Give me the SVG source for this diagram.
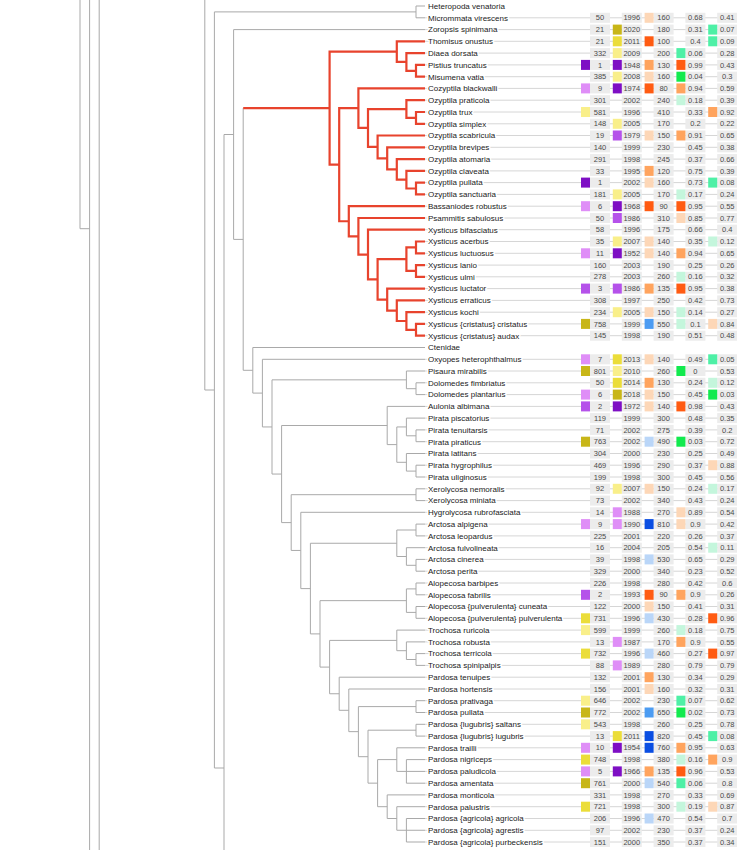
<svg xmlns="http://www.w3.org/2000/svg" xmlns:xlink="http://www.w3.org/1999/xlink" width="737" height="850" viewBox="0 0 737 850">
<style>
.g{fill:none;stroke:#a9a9a9;stroke-width:1}
.r{fill:none;stroke:#e8432d;stroke-width:2.2;stroke-linejoin:miter}
.gd{stroke:#d6d6d6;stroke-width:1}
.bx{fill:#ececec}
.lb{font-family:"Liberation Sans",Arial,sans-serif;font-size:8px;fill:#222;stroke:#fff;stroke-width:3;paint-order:stroke;stroke-linejoin:round}
.n{font-family:"Liberation Sans",Arial,sans-serif;font-size:7.5px;fill:#4a4a4a;text-anchor:middle}
.dp{fill:#7e0fc4}.mp{fill:#b552ea}.lv{fill:#df8ef7}.ol{fill:#c8b618}.ye{fill:#ebdd3a}.py{fill:#f9ef8a}
.or{fill:#ff5b12}.oa{fill:#ffa45e}.pp{fill:#fdd7b7}.mi{fill:#4ef0a6}.gr{fill:#12ea4e}.pm{fill:#c4f6dc}
.bl{fill:#4c9cf2}.db{fill:#0a4ee2}.pb{fill:#bad6f8}
</style>
<defs>
<g id="row">
<line class="gd" x1="425" y1="0" x2="737" y2="0"/>
<rect class="bx" x="590" y="-5" width="20" height="10"/>
<rect class="bx" x="621.8" y="-5" width="20" height="10"/>
<rect class="bx" x="653.6" y="-5" width="20" height="10"/>
<rect class="bx" x="685.4" y="-5" width="20" height="10"/>
<rect class="bx" x="717.2" y="-5" width="20" height="10"/>
</g>
</defs>
<g id="connectors">
<path class="g" d="M80 0V228.7H89.6M89.6 0V850M99.2 0V850M204.8 0V390H214.4M416 11.9H214.4V768H224M233.6 134.5H224V850M425 6H416V17.8H425M425 29.6H233.6V239.4H243.2M243.2 108.15V370.3H252.8M425 347.5H252.8V393.1H262.4M425 359.3H262.4V426.95H272M406.4 379.85H272V474.05H281.6M387.2 425.5H281.6V522.6H291.2M416 494.7H291.2V550.45H300.8M425 512.3H300.8V588.6H310.4M396.8 543.25H310.4V633.9H320M406.4 600.65H320V667.1H329.6M396.8 640.4H329.6V693.75H339.2M425 677.2H339.2V710.3H348.8M425 689H348.8V731.65H358.4M416 706.6H358.4V756.7H368M416 730.2H368V783.15H377.6M396.8 759.6H377.6V806.7H387.2M425 794.9H387.2V818.5H396.8M425 806.7H396.8V830.25H406.4M425 818.5H406.4V842H425M406.4 830.25H425M425 747.8H396.8V771.4H406.4M425 759.6H406.4V783.2H425M406.4 771.4H425M425 700.7H416V712.5H425M425 724.3H416V736.1H425M425 630.1H396.8V650.7H406.4M425 641.9H406.4V659.5H416M425 653.6H416V665.4H425M416 588.9H406.4V612.4H416M425 583H416V594.8H425M425 606.5H416V618.3H425M416 530H396.8V556.5H406.4M425 524.1H416V535.9H425M425 547.7H406.4V565.3H416M425 559.4H416V571.2H425M425 488.8H416V500.6H425M425 406.4H387.2V444.6H396.8M406.4 426.95H396.8V462.3H406.4M425 418.1H406.4V435.8H416M425 429.9H416V441.7H425M425 453.5H406.4V471.1H416M425 465.2H416V477H425M425 371H406.4V388.7H416M425 382.8H416V394.6H425"/>
<path class="r" d="M243.2 108.15H329.6M396.8 51.6H329.6V164.7H339.2M358.4 108.2H339.2V221.25H348.8M425 41.3H396.8V61.95H406.4M425 53.1H406.4V70.8H416M425 64.9H416V76.7H425M425 88.4H358.4V127.95H368M406.4 109.05H368V146.9H377.6M425 100.2H406.4V117.9H416M425 112H416V123.8H425M425 135.5H377.6V158.35H387.2M425 147.3H387.2V169.4H396.8M425 159.1H396.8V179.7H406.4M425 170.9H406.4V188.5H416M425 182.6H416V194.4H425M425 206.2H348.8V236.3H358.4M425 218H358.4V254.55H368M425 229.7H368V279.4H377.6M406.4 259.2H377.6V299.65H387.2M416 247.4H406.4V270.95H416M425 241.5H416V253.3H425M425 265.1H416V276.8H425M425 288.6H387.2V310.7H396.8M425 300.4H396.8V321H406.4M425 312.2H406.4V329.8H416M425 323.9H416V335.7H425"/>
</g>
<g id="heteropoda-venatoria" transform="translate(0 6)"><text class="lb" x="428" y="2.8">Heteropoda venatoria</text></g>
<g id="micrommata-virescens" transform="translate(0 17.8)"><use href="#row"/><rect class="pp" x="644.6" y="-5" width="9" height="10"/><text class="lb" x="428" y="2.8">Micrommata virescens</text><text class="n" y="2.6"><tspan x="600">50</tspan><tspan x="631.8">1996</tspan><tspan x="663.6">160</tspan><tspan x="695.4">0.68</tspan><tspan x="727.2">0.41</tspan></text></g>
<g id="zoropsis-spinimana" transform="translate(0 29.6)"><use href="#row"/><rect class="ol" x="612.8" y="-5" width="9" height="10"/><rect class="mi" x="708.2" y="-5" width="9" height="10"/><text class="lb" x="428" y="2.8">Zoropsis spinimana</text><text class="n" y="2.6"><tspan x="600">21</tspan><tspan x="631.8">2020</tspan><tspan x="663.6">180</tspan><tspan x="695.4">0.31</tspan><tspan x="727.2">0.07</tspan></text></g>
<g id="thomisus-onustus" transform="translate(0 41.3)"><use href="#row"/><rect class="ye" x="612.8" y="-5" width="9" height="10"/><rect class="or" x="644.6" y="-5" width="9" height="10"/><rect class="mi" x="708.2" y="-5" width="9" height="10"/><text class="lb" x="428" y="2.8">Thomisus onustus</text><text class="n" y="2.6"><tspan x="600">21</tspan><tspan x="631.8">2011</tspan><tspan x="663.6">100</tspan><tspan x="695.4">0.4</tspan><tspan x="727.2">0.09</tspan></text></g>
<g id="diaea-dorsata" transform="translate(0 53.1)"><use href="#row"/><rect class="py" x="612.8" y="-5" width="9" height="10"/><rect class="mi" x="676.4" y="-5" width="9" height="10"/><text class="lb" x="428" y="2.8">Diaea dorsata</text><text class="n" y="2.6"><tspan x="600">332</tspan><tspan x="631.8">2009</tspan><tspan x="663.6">200</tspan><tspan x="695.4">0.06</tspan><tspan x="727.2">0.28</tspan></text></g>
<g id="pistius-truncatus" transform="translate(0 64.9)"><use href="#row"/><rect class="dp" x="581" y="-5" width="9" height="10"/><rect class="dp" x="612.8" y="-5" width="9" height="10"/><rect class="oa" x="644.6" y="-5" width="9" height="10"/><rect class="or" x="676.4" y="-5" width="9" height="10"/><text class="lb" x="428" y="2.8">Pistius truncatus</text><text class="n" y="2.6"><tspan x="600">1</tspan><tspan x="631.8">1948</tspan><tspan x="663.6">130</tspan><tspan x="695.4">0.99</tspan><tspan x="727.2">0.43</tspan></text></g>
<g id="misumena-vatia" transform="translate(0 76.7)"><use href="#row"/><rect class="py" x="612.8" y="-5" width="9" height="10"/><rect class="pp" x="644.6" y="-5" width="9" height="10"/><rect class="gr" x="676.4" y="-5" width="9" height="10"/><text class="lb" x="428" y="2.8">Misumena vatia</text><text class="n" y="2.6"><tspan x="600">385</tspan><tspan x="631.8">2008</tspan><tspan x="663.6">160</tspan><tspan x="695.4">0.04</tspan><tspan x="727.2">0.3</tspan></text></g>
<g id="cozyptila-blackwalli" transform="translate(0 88.4)"><use href="#row"/><rect class="lv" x="581" y="-5" width="9" height="10"/><rect class="dp" x="612.8" y="-5" width="9" height="10"/><rect class="or" x="644.6" y="-5" width="9" height="10"/><rect class="oa" x="676.4" y="-5" width="9" height="10"/><text class="lb" x="428" y="2.8">Cozyptila blackwalli</text><text class="n" y="2.6"><tspan x="600">9</tspan><tspan x="631.8">1974</tspan><tspan x="663.6">80</tspan><tspan x="695.4">0.94</tspan><tspan x="727.2">0.59</tspan></text></g>
<g id="ozyptila-praticola" transform="translate(0 100.2)"><use href="#row"/><rect class="pm" x="676.4" y="-5" width="9" height="10"/><text class="lb" x="428" y="2.8">Ozyptila praticola</text><text class="n" y="2.6"><tspan x="600">301</tspan><tspan x="631.8">2002</tspan><tspan x="663.6">240</tspan><tspan x="695.4">0.18</tspan><tspan x="727.2">0.39</tspan></text></g>
<g id="ozyptila-trux" transform="translate(0 112)"><use href="#row"/><rect class="py" x="581" y="-5" width="9" height="10"/><rect class="oa" x="708.2" y="-5" width="9" height="10"/><text class="lb" x="428" y="2.8">Ozyptila trux</text><text class="n" y="2.6"><tspan x="600">581</tspan><tspan x="631.8">1996</tspan><tspan x="663.6">410</tspan><tspan x="695.4">0.33</tspan><tspan x="727.2">0.92</tspan></text></g>
<g id="ozyptila-simplex" transform="translate(0 123.8)"><use href="#row"/><rect class="py" x="612.8" y="-5" width="9" height="10"/><text class="lb" x="428" y="2.8">Ozyptila simplex</text><text class="n" y="2.6"><tspan x="600">148</tspan><tspan x="631.8">2005</tspan><tspan x="663.6">170</tspan><tspan x="695.4">0.2</tspan><tspan x="727.2">0.22</tspan></text></g>
<g id="ozyptila-scabricula" transform="translate(0 135.5)"><use href="#row"/><rect class="mp" x="612.8" y="-5" width="9" height="10"/><rect class="pp" x="644.6" y="-5" width="9" height="10"/><rect class="oa" x="676.4" y="-5" width="9" height="10"/><text class="lb" x="428" y="2.8">Ozyptila scabricula</text><text class="n" y="2.6"><tspan x="600">19</tspan><tspan x="631.8">1979</tspan><tspan x="663.6">150</tspan><tspan x="695.4">0.91</tspan><tspan x="727.2">0.65</tspan></text></g>
<g id="ozyptila-brevipes" transform="translate(0 147.3)"><use href="#row"/><text class="lb" x="428" y="2.8">Ozyptila brevipes</text><text class="n" y="2.6"><tspan x="600">140</tspan><tspan x="631.8">1999</tspan><tspan x="663.6">230</tspan><tspan x="695.4">0.45</tspan><tspan x="727.2">0.38</tspan></text></g>
<g id="ozyptila-atomaria" transform="translate(0 159.1)"><use href="#row"/><text class="lb" x="428" y="2.8">Ozyptila atomaria</text><text class="n" y="2.6"><tspan x="600">291</tspan><tspan x="631.8">1998</tspan><tspan x="663.6">245</tspan><tspan x="695.4">0.37</tspan><tspan x="727.2">0.66</tspan></text></g>
<g id="ozyptila-claveata" transform="translate(0 170.9)"><use href="#row"/><rect class="oa" x="644.6" y="-5" width="9" height="10"/><text class="lb" x="428" y="2.8">Ozyptila claveata</text><text class="n" y="2.6"><tspan x="600">33</tspan><tspan x="631.8">1995</tspan><tspan x="663.6">120</tspan><tspan x="695.4">0.75</tspan><tspan x="727.2">0.39</tspan></text></g>
<g id="ozyptila-pullata" transform="translate(0 182.6)"><use href="#row"/><rect class="dp" x="581" y="-5" width="9" height="10"/><rect class="pp" x="644.6" y="-5" width="9" height="10"/><rect class="mi" x="708.2" y="-5" width="9" height="10"/><text class="lb" x="428" y="2.8">Ozyptila pullata</text><text class="n" y="2.6"><tspan x="600">1</tspan><tspan x="631.8">2002</tspan><tspan x="663.6">160</tspan><tspan x="695.4">0.73</tspan><tspan x="727.2">0.08</tspan></text></g>
<g id="ozyptila-sanctuaria" transform="translate(0 194.4)"><use href="#row"/><rect class="py" x="612.8" y="-5" width="9" height="10"/><rect class="pm" x="676.4" y="-5" width="9" height="10"/><text class="lb" x="428" y="2.8">Ozyptila sanctuaria</text><text class="n" y="2.6"><tspan x="600">181</tspan><tspan x="631.8">2005</tspan><tspan x="663.6">170</tspan><tspan x="695.4">0.17</tspan><tspan x="727.2">0.24</tspan></text></g>
<g id="bassaniodes-robustus" transform="translate(0 206.2)"><use href="#row"/><rect class="lv" x="581" y="-5" width="9" height="10"/><rect class="dp" x="612.8" y="-5" width="9" height="10"/><rect class="or" x="644.6" y="-5" width="9" height="10"/><rect class="or" x="676.4" y="-5" width="9" height="10"/><text class="lb" x="428" y="2.8">Bassaniodes robustus</text><text class="n" y="2.6"><tspan x="600">6</tspan><tspan x="631.8">1968</tspan><tspan x="663.6">90</tspan><tspan x="695.4">0.95</tspan><tspan x="727.2">0.55</tspan></text></g>
<g id="psammitis-sabulosus" transform="translate(0 218)"><use href="#row"/><rect class="mp" x="612.8" y="-5" width="9" height="10"/><rect class="pp" x="676.4" y="-5" width="9" height="10"/><text class="lb" x="428" y="2.8">Psammitis sabulosus</text><text class="n" y="2.6"><tspan x="600">50</tspan><tspan x="631.8">1986</tspan><tspan x="663.6">310</tspan><tspan x="695.4">0.85</tspan><tspan x="727.2">0.77</tspan></text></g>
<g id="xysticus-bifasciatus" transform="translate(0 229.7)"><use href="#row"/><text class="lb" x="428" y="2.8">Xysticus bifasciatus</text><text class="n" y="2.6"><tspan x="600">58</tspan><tspan x="631.8">1996</tspan><tspan x="663.6">175</tspan><tspan x="695.4">0.66</tspan><tspan x="727.2">0.4</tspan></text></g>
<g id="xysticus-acerbus" transform="translate(0 241.5)"><use href="#row"/><rect class="py" x="612.8" y="-5" width="9" height="10"/><rect class="pp" x="644.6" y="-5" width="9" height="10"/><rect class="pm" x="708.2" y="-5" width="9" height="10"/><text class="lb" x="428" y="2.8">Xysticus acerbus</text><text class="n" y="2.6"><tspan x="600">35</tspan><tspan x="631.8">2007</tspan><tspan x="663.6">140</tspan><tspan x="695.4">0.35</tspan><tspan x="727.2">0.12</tspan></text></g>
<g id="xysticus-luctuosus" transform="translate(0 253.3)"><use href="#row"/><rect class="lv" x="581" y="-5" width="9" height="10"/><rect class="dp" x="612.8" y="-5" width="9" height="10"/><rect class="pp" x="644.6" y="-5" width="9" height="10"/><rect class="oa" x="676.4" y="-5" width="9" height="10"/><text class="lb" x="428" y="2.8">Xysticus luctuosus</text><text class="n" y="2.6"><tspan x="600">11</tspan><tspan x="631.8">1952</tspan><tspan x="663.6">140</tspan><tspan x="695.4">0.94</tspan><tspan x="727.2">0.65</tspan></text></g>
<g id="xysticus-lanio" transform="translate(0 265.1)"><use href="#row"/><text class="lb" x="428" y="2.8">Xysticus lanio</text><text class="n" y="2.6"><tspan x="600">160</tspan><tspan x="631.8">2003</tspan><tspan x="663.6">190</tspan><tspan x="695.4">0.25</tspan><tspan x="727.2">0.26</tspan></text></g>
<g id="xysticus-ulmi" transform="translate(0 276.8)"><use href="#row"/><rect class="pm" x="676.4" y="-5" width="9" height="10"/><text class="lb" x="428" y="2.8">Xysticus ulmi</text><text class="n" y="2.6"><tspan x="600">278</tspan><tspan x="631.8">2003</tspan><tspan x="663.6">260</tspan><tspan x="695.4">0.16</tspan><tspan x="727.2">0.32</tspan></text></g>
<g id="xysticus-luctator" transform="translate(0 288.6)"><use href="#row"/><rect class="mp" x="581" y="-5" width="9" height="10"/><rect class="mp" x="612.8" y="-5" width="9" height="10"/><rect class="oa" x="644.6" y="-5" width="9" height="10"/><rect class="or" x="676.4" y="-5" width="9" height="10"/><text class="lb" x="428" y="2.8">Xysticus luctator</text><text class="n" y="2.6"><tspan x="600">3</tspan><tspan x="631.8">1986</tspan><tspan x="663.6">135</tspan><tspan x="695.4">0.95</tspan><tspan x="727.2">0.38</tspan></text></g>
<g id="xysticus-erraticus" transform="translate(0 300.4)"><use href="#row"/><text class="lb" x="428" y="2.8">Xysticus erraticus</text><text class="n" y="2.6"><tspan x="600">308</tspan><tspan x="631.8">1997</tspan><tspan x="663.6">250</tspan><tspan x="695.4">0.42</tspan><tspan x="727.2">0.73</tspan></text></g>
<g id="xysticus-kochi" transform="translate(0 312.2)"><use href="#row"/><rect class="py" x="612.8" y="-5" width="9" height="10"/><rect class="pp" x="644.6" y="-5" width="9" height="10"/><rect class="pm" x="676.4" y="-5" width="9" height="10"/><text class="lb" x="428" y="2.8">Xysticus kochi</text><text class="n" y="2.6"><tspan x="600">234</tspan><tspan x="631.8">2005</tspan><tspan x="663.6">150</tspan><tspan x="695.4">0.14</tspan><tspan x="727.2">0.27</tspan></text></g>
<g id="xysticus-cristatus-cristatus" transform="translate(0 323.9)"><use href="#row"/><rect class="ol" x="581" y="-5" width="9" height="10"/><rect class="bl" x="644.6" y="-5" width="9" height="10"/><rect class="pm" x="676.4" y="-5" width="9" height="10"/><rect class="pp" x="708.2" y="-5" width="9" height="10"/><text class="lb" x="428" y="2.8">Xysticus {cristatus} cristatus</text><text class="n" y="2.6"><tspan x="600">758</tspan><tspan x="631.8">1999</tspan><tspan x="663.6">550</tspan><tspan x="695.4">0.1</tspan><tspan x="727.2">0.84</tspan></text></g>
<g id="xysticus-cristatus-audax" transform="translate(0 335.7)"><use href="#row"/><text class="lb" x="428" y="2.8">Xysticus {cristatus} audax</text><text class="n" y="2.6"><tspan x="600">145</tspan><tspan x="631.8">1998</tspan><tspan x="663.6">190</tspan><tspan x="695.4">0.51</tspan><tspan x="727.2">0.48</tspan></text></g>
<g id="ctenidae" transform="translate(0 347.5)"><text class="lb" x="428" y="2.8">Ctenidae</text></g>
<g id="oxyopes-heterophthalmus" transform="translate(0 359.3)"><use href="#row"/><rect class="lv" x="581" y="-5" width="9" height="10"/><rect class="ye" x="612.8" y="-5" width="9" height="10"/><rect class="pp" x="644.6" y="-5" width="9" height="10"/><rect class="mi" x="708.2" y="-5" width="9" height="10"/><text class="lb" x="428" y="2.8">Oxyopes heterophthalmus</text><text class="n" y="2.6"><tspan x="600">7</tspan><tspan x="631.8">2013</tspan><tspan x="663.6">140</tspan><tspan x="695.4">0.49</tspan><tspan x="727.2">0.05</tspan></text></g>
<g id="pisaura-mirabilis" transform="translate(0 371)"><use href="#row"/><rect class="ol" x="581" y="-5" width="9" height="10"/><rect class="py" x="612.8" y="-5" width="9" height="10"/><rect class="gr" x="676.4" y="-5" width="9" height="10"/><text class="lb" x="428" y="2.8">Pisaura mirabilis</text><text class="n" y="2.6"><tspan x="600">801</tspan><tspan x="631.8">2010</tspan><tspan x="663.6">260</tspan><tspan x="695.4">0</tspan><tspan x="727.2">0.53</tspan></text></g>
<g id="dolomedes-fimbriatus" transform="translate(0 382.8)"><use href="#row"/><rect class="ye" x="612.8" y="-5" width="9" height="10"/><rect class="oa" x="644.6" y="-5" width="9" height="10"/><rect class="pm" x="708.2" y="-5" width="9" height="10"/><text class="lb" x="428" y="2.8">Dolomedes fimbriatus</text><text class="n" y="2.6"><tspan x="600">50</tspan><tspan x="631.8">2014</tspan><tspan x="663.6">130</tspan><tspan x="695.4">0.24</tspan><tspan x="727.2">0.12</tspan></text></g>
<g id="dolomedes-plantarius" transform="translate(0 394.6)"><use href="#row"/><rect class="lv" x="581" y="-5" width="9" height="10"/><rect class="ol" x="612.8" y="-5" width="9" height="10"/><rect class="pp" x="644.6" y="-5" width="9" height="10"/><rect class="gr" x="708.2" y="-5" width="9" height="10"/><text class="lb" x="428" y="2.8">Dolomedes plantarius</text><text class="n" y="2.6"><tspan x="600">6</tspan><tspan x="631.8">2018</tspan><tspan x="663.6">150</tspan><tspan x="695.4">0.45</tspan><tspan x="727.2">0.03</tspan></text></g>
<g id="aulonia-albimana" transform="translate(0 406.4)"><use href="#row"/><rect class="mp" x="581" y="-5" width="9" height="10"/><rect class="dp" x="612.8" y="-5" width="9" height="10"/><rect class="pp" x="644.6" y="-5" width="9" height="10"/><rect class="or" x="676.4" y="-5" width="9" height="10"/><text class="lb" x="428" y="2.8">Aulonia albimana</text><text class="n" y="2.6"><tspan x="600">2</tspan><tspan x="631.8">1972</tspan><tspan x="663.6">140</tspan><tspan x="695.4">0.98</tspan><tspan x="727.2">0.43</tspan></text></g>
<g id="pirata-piscatorius" transform="translate(0 418.1)"><use href="#row"/><text class="lb" x="428" y="2.8">Pirata piscatorius</text><text class="n" y="2.6"><tspan x="600">119</tspan><tspan x="631.8">1999</tspan><tspan x="663.6">300</tspan><tspan x="695.4">0.48</tspan><tspan x="727.2">0.35</tspan></text></g>
<g id="pirata-tenuitarsis" transform="translate(0 429.9)"><use href="#row"/><text class="lb" x="428" y="2.8">Pirata tenuitarsis</text><text class="n" y="2.6"><tspan x="600">71</tspan><tspan x="631.8">2002</tspan><tspan x="663.6">275</tspan><tspan x="695.4">0.39</tspan><tspan x="727.2">0.2</tspan></text></g>
<g id="pirata-piraticus" transform="translate(0 441.7)"><use href="#row"/><rect class="ol" x="581" y="-5" width="9" height="10"/><rect class="pb" x="644.6" y="-5" width="9" height="10"/><rect class="gr" x="676.4" y="-5" width="9" height="10"/><text class="lb" x="428" y="2.8">Pirata piraticus</text><text class="n" y="2.6"><tspan x="600">763</tspan><tspan x="631.8">2002</tspan><tspan x="663.6">490</tspan><tspan x="695.4">0.03</tspan><tspan x="727.2">0.72</tspan></text></g>
<g id="pirata-latitans" transform="translate(0 453.5)"><use href="#row"/><text class="lb" x="428" y="2.8">Pirata latitans</text><text class="n" y="2.6"><tspan x="600">304</tspan><tspan x="631.8">2000</tspan><tspan x="663.6">230</tspan><tspan x="695.4">0.25</tspan><tspan x="727.2">0.49</tspan></text></g>
<g id="pirata-hygrophilus" transform="translate(0 465.2)"><use href="#row"/><rect class="pp" x="708.2" y="-5" width="9" height="10"/><text class="lb" x="428" y="2.8">Pirata hygrophilus</text><text class="n" y="2.6"><tspan x="600">469</tspan><tspan x="631.8">1996</tspan><tspan x="663.6">290</tspan><tspan x="695.4">0.37</tspan><tspan x="727.2">0.88</tspan></text></g>
<g id="pirata-uliginosus" transform="translate(0 477)"><use href="#row"/><text class="lb" x="428" y="2.8">Pirata uliginosus</text><text class="n" y="2.6"><tspan x="600">199</tspan><tspan x="631.8">1998</tspan><tspan x="663.6">300</tspan><tspan x="695.4">0.45</tspan><tspan x="727.2">0.56</tspan></text></g>
<g id="xerolycosa-nemoralis" transform="translate(0 488.8)"><use href="#row"/><rect class="py" x="612.8" y="-5" width="9" height="10"/><rect class="pp" x="644.6" y="-5" width="9" height="10"/><rect class="pm" x="708.2" y="-5" width="9" height="10"/><text class="lb" x="428" y="2.8">Xerolycosa nemoralis</text><text class="n" y="2.6"><tspan x="600">92</tspan><tspan x="631.8">2007</tspan><tspan x="663.6">150</tspan><tspan x="695.4">0.24</tspan><tspan x="727.2">0.17</tspan></text></g>
<g id="xerolycosa-miniata" transform="translate(0 500.6)"><use href="#row"/><text class="lb" x="428" y="2.8">Xerolycosa miniata</text><text class="n" y="2.6"><tspan x="600">73</tspan><tspan x="631.8">2002</tspan><tspan x="663.6">340</tspan><tspan x="695.4">0.43</tspan><tspan x="727.2">0.24</tspan></text></g>
<g id="hygrolycosa-rubrofasciata" transform="translate(0 512.3)"><use href="#row"/><rect class="lv" x="612.8" y="-5" width="9" height="10"/><rect class="pp" x="676.4" y="-5" width="9" height="10"/><text class="lb" x="428" y="2.8">Hygrolycosa rubrofasciata</text><text class="n" y="2.6"><tspan x="600">14</tspan><tspan x="631.8">1988</tspan><tspan x="663.6">270</tspan><tspan x="695.4">0.89</tspan><tspan x="727.2">0.54</tspan></text></g>
<g id="arctosa-alpigena" transform="translate(0 524.1)"><use href="#row"/><rect class="lv" x="581" y="-5" width="9" height="10"/><rect class="lv" x="612.8" y="-5" width="9" height="10"/><rect class="db" x="644.6" y="-5" width="9" height="10"/><rect class="pp" x="676.4" y="-5" width="9" height="10"/><text class="lb" x="428" y="2.8">Arctosa alpigena</text><text class="n" y="2.6"><tspan x="600">9</tspan><tspan x="631.8">1990</tspan><tspan x="663.6">810</tspan><tspan x="695.4">0.9</tspan><tspan x="727.2">0.42</tspan></text></g>
<g id="arctosa-leopardus" transform="translate(0 535.9)"><use href="#row"/><text class="lb" x="428" y="2.8">Arctosa leopardus</text><text class="n" y="2.6"><tspan x="600">225</tspan><tspan x="631.8">2001</tspan><tspan x="663.6">220</tspan><tspan x="695.4">0.26</tspan><tspan x="727.2">0.37</tspan></text></g>
<g id="arctosa-fulvolineata" transform="translate(0 547.7)"><use href="#row"/><rect class="pm" x="708.2" y="-5" width="9" height="10"/><text class="lb" x="428" y="2.8">Arctosa fulvolineata</text><text class="n" y="2.6"><tspan x="600">16</tspan><tspan x="631.8">2004</tspan><tspan x="663.6">205</tspan><tspan x="695.4">0.54</tspan><tspan x="727.2">0.11</tspan></text></g>
<g id="arctosa-cinerea" transform="translate(0 559.4)"><use href="#row"/><rect class="pb" x="644.6" y="-5" width="9" height="10"/><text class="lb" x="428" y="2.8">Arctosa cinerea</text><text class="n" y="2.6"><tspan x="600">39</tspan><tspan x="631.8">1998</tspan><tspan x="663.6">530</tspan><tspan x="695.4">0.65</tspan><tspan x="727.2">0.29</tspan></text></g>
<g id="arctosa-perita" transform="translate(0 571.2)"><use href="#row"/><text class="lb" x="428" y="2.8">Arctosa perita</text><text class="n" y="2.6"><tspan x="600">329</tspan><tspan x="631.8">2000</tspan><tspan x="663.6">340</tspan><tspan x="695.4">0.23</tspan><tspan x="727.2">0.52</tspan></text></g>
<g id="alopecosa-barbipes" transform="translate(0 583)"><use href="#row"/><text class="lb" x="428" y="2.8">Alopecosa barbipes</text><text class="n" y="2.6"><tspan x="600">226</tspan><tspan x="631.8">1998</tspan><tspan x="663.6">280</tspan><tspan x="695.4">0.42</tspan><tspan x="727.2">0.6</tspan></text></g>
<g id="alopecosa-fabrilis" transform="translate(0 594.8)"><use href="#row"/><rect class="mp" x="581" y="-5" width="9" height="10"/><rect class="or" x="644.6" y="-5" width="9" height="10"/><rect class="oa" x="676.4" y="-5" width="9" height="10"/><text class="lb" x="428" y="2.8">Alopecosa fabrilis</text><text class="n" y="2.6"><tspan x="600">2</tspan><tspan x="631.8">1993</tspan><tspan x="663.6">90</tspan><tspan x="695.4">0.9</tspan><tspan x="727.2">0.26</tspan></text></g>
<g id="alopecosa-pulverulenta-cuneata" transform="translate(0 606.5)"><use href="#row"/><rect class="pp" x="644.6" y="-5" width="9" height="10"/><text class="lb" x="428" y="2.8">Alopecosa {pulverulenta} cuneata</text><text class="n" y="2.6"><tspan x="600">122</tspan><tspan x="631.8">2000</tspan><tspan x="663.6">150</tspan><tspan x="695.4">0.41</tspan><tspan x="727.2">0.31</tspan></text></g>
<g id="alopecosa-pulverulenta-pulverulenta" transform="translate(0 618.3)"><use href="#row"/><rect class="ye" x="581" y="-5" width="9" height="10"/><rect class="pb" x="644.6" y="-5" width="9" height="10"/><rect class="or" x="708.2" y="-5" width="9" height="10"/><text class="lb" x="428" y="2.8">Alopecosa {pulverulenta} pulverulenta</text><text class="n" y="2.6"><tspan x="600">731</tspan><tspan x="631.8">1996</tspan><tspan x="663.6">430</tspan><tspan x="695.4">0.28</tspan><tspan x="727.2">0.96</tspan></text></g>
<g id="trochosa-ruricola" transform="translate(0 630.1)"><use href="#row"/><rect class="py" x="581" y="-5" width="9" height="10"/><rect class="pm" x="676.4" y="-5" width="9" height="10"/><text class="lb" x="428" y="2.8">Trochosa ruricola</text><text class="n" y="2.6"><tspan x="600">599</tspan><tspan x="631.8">1999</tspan><tspan x="663.6">260</tspan><tspan x="695.4">0.18</tspan><tspan x="727.2">0.75</tspan></text></g>
<g id="trochosa-robusta" transform="translate(0 641.9)"><use href="#row"/><rect class="lv" x="612.8" y="-5" width="9" height="10"/><rect class="oa" x="676.4" y="-5" width="9" height="10"/><text class="lb" x="428" y="2.8">Trochosa robusta</text><text class="n" y="2.6"><tspan x="600">13</tspan><tspan x="631.8">1987</tspan><tspan x="663.6">170</tspan><tspan x="695.4">0.9</tspan><tspan x="727.2">0.55</tspan></text></g>
<g id="trochosa-terricola" transform="translate(0 653.6)"><use href="#row"/><rect class="ye" x="581" y="-5" width="9" height="10"/><rect class="pb" x="644.6" y="-5" width="9" height="10"/><rect class="or" x="708.2" y="-5" width="9" height="10"/><text class="lb" x="428" y="2.8">Trochosa terricola</text><text class="n" y="2.6"><tspan x="600">732</tspan><tspan x="631.8">1996</tspan><tspan x="663.6">460</tspan><tspan x="695.4">0.27</tspan><tspan x="727.2">0.97</tspan></text></g>
<g id="trochosa-spinipalpis" transform="translate(0 665.4)"><use href="#row"/><rect class="lv" x="612.8" y="-5" width="9" height="10"/><text class="lb" x="428" y="2.8">Trochosa spinipalpis</text><text class="n" y="2.6"><tspan x="600">88</tspan><tspan x="631.8">1989</tspan><tspan x="663.6">280</tspan><tspan x="695.4">0.79</tspan><tspan x="727.2">0.79</tspan></text></g>
<g id="pardosa-tenuipes" transform="translate(0 677.2)"><use href="#row"/><rect class="oa" x="644.6" y="-5" width="9" height="10"/><text class="lb" x="428" y="2.8">Pardosa tenuipes</text><text class="n" y="2.6"><tspan x="600">132</tspan><tspan x="631.8">2001</tspan><tspan x="663.6">130</tspan><tspan x="695.4">0.34</tspan><tspan x="727.2">0.29</tspan></text></g>
<g id="pardosa-hortensis" transform="translate(0 689)"><use href="#row"/><rect class="pp" x="644.6" y="-5" width="9" height="10"/><text class="lb" x="428" y="2.8">Pardosa hortensis</text><text class="n" y="2.6"><tspan x="600">156</tspan><tspan x="631.8">2001</tspan><tspan x="663.6">160</tspan><tspan x="695.4">0.32</tspan><tspan x="727.2">0.31</tspan></text></g>
<g id="pardosa-prativaga" transform="translate(0 700.7)"><use href="#row"/><rect class="py" x="581" y="-5" width="9" height="10"/><rect class="mi" x="676.4" y="-5" width="9" height="10"/><text class="lb" x="428" y="2.8">Pardosa prativaga</text><text class="n" y="2.6"><tspan x="600">646</tspan><tspan x="631.8">2002</tspan><tspan x="663.6">230</tspan><tspan x="695.4">0.07</tspan><tspan x="727.2">0.62</tspan></text></g>
<g id="pardosa-pullata" transform="translate(0 712.5)"><use href="#row"/><rect class="ol" x="581" y="-5" width="9" height="10"/><rect class="bl" x="644.6" y="-5" width="9" height="10"/><rect class="gr" x="676.4" y="-5" width="9" height="10"/><text class="lb" x="428" y="2.8">Pardosa pullata</text><text class="n" y="2.6"><tspan x="600">772</tspan><tspan x="631.8">2002</tspan><tspan x="663.6">650</tspan><tspan x="695.4">0.02</tspan><tspan x="727.2">0.73</tspan></text></g>
<g id="pardosa-lugubris-saltans" transform="translate(0 724.3)"><use href="#row"/><rect class="py" x="581" y="-5" width="9" height="10"/><text class="lb" x="428" y="2.8">Pardosa {lugubris} saltans</text><text class="n" y="2.6"><tspan x="600">543</tspan><tspan x="631.8">1998</tspan><tspan x="663.6">260</tspan><tspan x="695.4">0.25</tspan><tspan x="727.2">0.78</tspan></text></g>
<g id="pardosa-lugubris-lugubris" transform="translate(0 736.1)"><use href="#row"/><rect class="ye" x="612.8" y="-5" width="9" height="10"/><rect class="db" x="644.6" y="-5" width="9" height="10"/><rect class="mi" x="708.2" y="-5" width="9" height="10"/><text class="lb" x="428" y="2.8">Pardosa {lugubris} lugubris</text><text class="n" y="2.6"><tspan x="600">13</tspan><tspan x="631.8">2011</tspan><tspan x="663.6">820</tspan><tspan x="695.4">0.45</tspan><tspan x="727.2">0.08</tspan></text></g>
<g id="pardosa-trailli" transform="translate(0 747.8)"><use href="#row"/><rect class="lv" x="581" y="-5" width="9" height="10"/><rect class="dp" x="612.8" y="-5" width="9" height="10"/><rect class="db" x="644.6" y="-5" width="9" height="10"/><rect class="oa" x="676.4" y="-5" width="9" height="10"/><text class="lb" x="428" y="2.8">Pardosa trailli</text><text class="n" y="2.6"><tspan x="600">10</tspan><tspan x="631.8">1954</tspan><tspan x="663.6">760</tspan><tspan x="695.4">0.95</tspan><tspan x="727.2">0.63</tspan></text></g>
<g id="pardosa-nigriceps" transform="translate(0 759.6)"><use href="#row"/><rect class="ye" x="581" y="-5" width="9" height="10"/><rect class="pm" x="676.4" y="-5" width="9" height="10"/><rect class="oa" x="708.2" y="-5" width="9" height="10"/><text class="lb" x="428" y="2.8">Pardosa nigriceps</text><text class="n" y="2.6"><tspan x="600">748</tspan><tspan x="631.8">1998</tspan><tspan x="663.6">380</tspan><tspan x="695.4">0.16</tspan><tspan x="727.2">0.9</tspan></text></g>
<g id="pardosa-paludicola" transform="translate(0 771.4)"><use href="#row"/><rect class="lv" x="581" y="-5" width="9" height="10"/><rect class="dp" x="612.8" y="-5" width="9" height="10"/><rect class="oa" x="644.6" y="-5" width="9" height="10"/><rect class="or" x="676.4" y="-5" width="9" height="10"/><text class="lb" x="428" y="2.8">Pardosa paludicola</text><text class="n" y="2.6"><tspan x="600">5</tspan><tspan x="631.8">1966</tspan><tspan x="663.6">135</tspan><tspan x="695.4">0.96</tspan><tspan x="727.2">0.53</tspan></text></g>
<g id="pardosa-amentata" transform="translate(0 783.2)"><use href="#row"/><rect class="ol" x="581" y="-5" width="9" height="10"/><rect class="pb" x="644.6" y="-5" width="9" height="10"/><rect class="mi" x="676.4" y="-5" width="9" height="10"/><text class="lb" x="428" y="2.8">Pardosa amentata</text><text class="n" y="2.6"><tspan x="600">761</tspan><tspan x="631.8">2000</tspan><tspan x="663.6">540</tspan><tspan x="695.4">0.06</tspan><tspan x="727.2">0.8</tspan></text></g>
<g id="pardosa-monticola" transform="translate(0 794.9)"><use href="#row"/><text class="lb" x="428" y="2.8">Pardosa monticola</text><text class="n" y="2.6"><tspan x="600">331</tspan><tspan x="631.8">1998</tspan><tspan x="663.6">270</tspan><tspan x="695.4">0.33</tspan><tspan x="727.2">0.69</tspan></text></g>
<g id="pardosa-palustris" transform="translate(0 806.7)"><use href="#row"/><rect class="ye" x="581" y="-5" width="9" height="10"/><rect class="pm" x="676.4" y="-5" width="9" height="10"/><rect class="pp" x="708.2" y="-5" width="9" height="10"/><text class="lb" x="428" y="2.8">Pardosa palustris</text><text class="n" y="2.6"><tspan x="600">721</tspan><tspan x="631.8">1998</tspan><tspan x="663.6">300</tspan><tspan x="695.4">0.19</tspan><tspan x="727.2">0.87</tspan></text></g>
<g id="pardosa-agricola-agricola" transform="translate(0 818.5)"><use href="#row"/><rect class="pb" x="644.6" y="-5" width="9" height="10"/><text class="lb" x="428" y="2.8">Pardosa {agricola} agricola</text><text class="n" y="2.6"><tspan x="600">206</tspan><tspan x="631.8">1996</tspan><tspan x="663.6">470</tspan><tspan x="695.4">0.54</tspan><tspan x="727.2">0.7</tspan></text></g>
<g id="pardosa-agricola-agrestis" transform="translate(0 830.3)"><use href="#row"/><text class="lb" x="428" y="2.8">Pardosa {agricola} agrestis</text><text class="n" y="2.6"><tspan x="600">97</tspan><tspan x="631.8">2002</tspan><tspan x="663.6">230</tspan><tspan x="695.4">0.37</tspan><tspan x="727.2">0.24</tspan></text></g>
<g id="pardosa-agricola-purbeckensis" transform="translate(0 842)"><use href="#row"/><text class="lb" x="428" y="2.8">Pardosa {agricola} purbeckensis</text><text class="n" y="2.6"><tspan x="600">151</tspan><tspan x="631.8">2000</tspan><tspan x="663.6">350</tspan><tspan x="695.4">0.37</tspan><tspan x="727.2">0.34</tspan></text></g>
</svg>
